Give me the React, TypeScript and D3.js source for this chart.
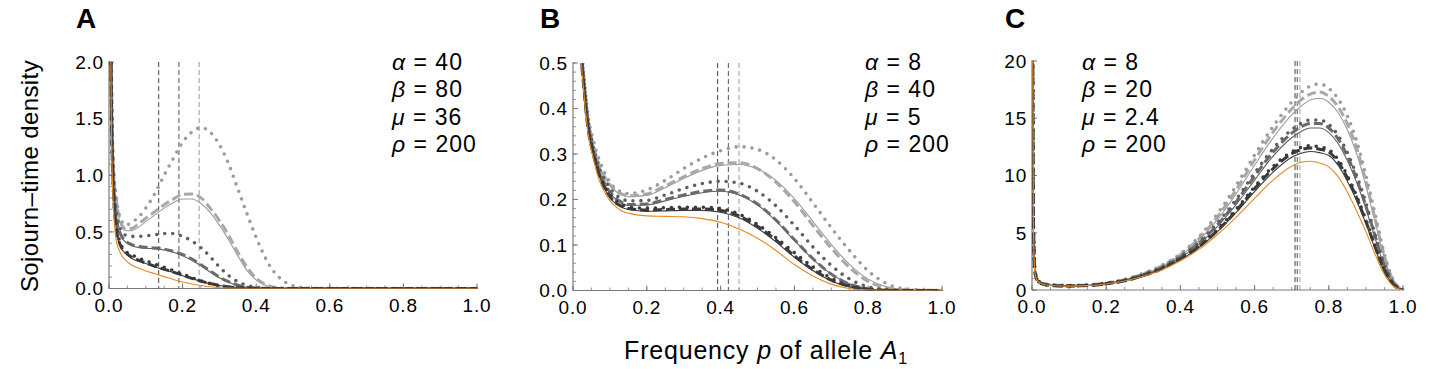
import React from 'react'
import * as d3 from 'd3'

// ---- data ----
const gridA = [0.002, 0.007, 0.012, 0.02, 0.03, 0.045, 0.06, 0.08, 0.1, 0.125, 0.15, 0.175, 0.2, 0.225, 0.25, 0.275, 0.3, 0.325, 0.35, 0.375, 0.4, 0.425, 0.45, 0.475, 0.5, 0.55, 0.6, 0.8, 1.0]
const aOrange = [3.2, 1.3, 0.72, 0.42, 0.32, 0.25, 0.21, 0.18, 0.155, 0.13, 0.105, 0.08, 0.058, 0.04, 0.026, 0.015, 0.007, 0.003, 0.001, 0, 0, 0, 0, 0, 0, 0, 0, 0, 0]
const aDarkSolid = [3.4, 1.5, 0.85, 0.52, 0.38, 0.31, 0.27, 0.24, 0.22, 0.19, 0.165, 0.14, 0.113, 0.087, 0.063, 0.042, 0.026, 0.014, 0.007, 0.003, 0.001, 0, 0, 0, 0, 0, 0, 0, 0]
const aDarkDashed = [3.4, 1.5, 0.86, 0.53, 0.39, 0.32, 0.28, 0.25, 0.225, 0.196, 0.17, 0.145, 0.117, 0.09, 0.065, 0.044, 0.027, 0.015, 0.007, 0.003, 0.001, 0, 0, 0, 0, 0, 0, 0, 0]
const aDarkDotted = [3.4, 1.55, 0.88, 0.55, 0.41, 0.33, 0.3, 0.27, 0.245, 0.215, 0.188, 0.158, 0.127, 0.096, 0.067, 0.043, 0.025, 0.012, 0.005, 0.002, 0, 0, 0, 0, 0, 0, 0, 0, 0]
const aMedSolid = [3.6, 1.6, 0.95, 0.62, 0.48, 0.41, 0.38, 0.362, 0.355, 0.35, 0.34, 0.32, 0.29, 0.25, 0.2, 0.145, 0.095, 0.055, 0.027, 0.011, 0.004, 0.001, 0, 0, 0, 0, 0, 0, 0]
const aMedDashed = [3.6, 1.6, 0.96, 0.63, 0.49, 0.42, 0.39, 0.372, 0.364, 0.358, 0.348, 0.328, 0.3, 0.26, 0.21, 0.155, 0.1, 0.06, 0.03, 0.012, 0.004, 0.001, 0, 0, 0, 0, 0, 0, 0]
const aMedDotted = [3.7, 1.7, 1.0, 0.68, 0.53, 0.47, 0.46, 0.46, 0.465, 0.475, 0.485, 0.485, 0.46, 0.42, 0.36, 0.28, 0.19, 0.115, 0.06, 0.027, 0.01, 0.003, 0.001, 0, 0, 0, 0, 0, 0]
const aLightSolid = [3.8, 1.75, 1.05, 0.76, 0.58, 0.51, 0.51, 0.54, 0.59, 0.65, 0.71, 0.76, 0.79, 0.79, 0.75, 0.67, 0.56, 0.43, 0.29, 0.16, 0.075, 0.028, 0.008, 0.002, 0, 0, 0, 0, 0]
const aLightDashed = [3.8, 1.75, 1.06, 0.78, 0.6, 0.53, 0.53, 0.57, 0.62, 0.68, 0.74, 0.79, 0.83, 0.835, 0.8, 0.71, 0.6, 0.47, 0.32, 0.19, 0.09, 0.035, 0.01, 0.002, 0, 0, 0, 0, 0]
const aLightDotted = [3.9, 1.8, 1.1, 0.8, 0.63, 0.56, 0.58, 0.63, 0.71, 0.84, 1.0, 1.15, 1.29, 1.38, 1.42, 1.38, 1.27, 1.1, 0.88, 0.66, 0.45, 0.27, 0.14, 0.065, 0.025, 0.003, 0, 0, 0]

const gridB = [0.012, 0.02, 0.03, 0.04, 0.055, 0.07, 0.09, 0.11, 0.13, 0.15, 0.2, 0.25, 0.3, 0.35, 0.4, 0.45, 0.5, 0.55, 0.6, 0.65, 0.7, 0.75, 0.8, 0.85, 0.9, 1.0]
const bOrange = [0.74, 0.54, 0.43, 0.35, 0.29, 0.245, 0.21, 0.188, 0.176, 0.17, 0.164, 0.163, 0.162, 0.158, 0.15, 0.135, 0.115, 0.088, 0.057, 0.032, 0.014, 0.004, 0.001, 0, 0, 0]
const bDarkSolid = [0.75, 0.55, 0.44, 0.36, 0.3, 0.255, 0.217, 0.195, 0.184, 0.178, 0.174, 0.175, 0.176, 0.176, 0.172, 0.16, 0.137, 0.107, 0.073, 0.044, 0.021, 0.008, 0.002, 0, 0, 0]
const bDarkDashed = [0.75, 0.55, 0.44, 0.36, 0.3, 0.256, 0.219, 0.197, 0.186, 0.18, 0.177, 0.178, 0.179, 0.179, 0.176, 0.164, 0.141, 0.111, 0.076, 0.046, 0.023, 0.009, 0.002, 0, 0, 0]
const bDarkDotted = [0.76, 0.56, 0.45, 0.37, 0.305, 0.26, 0.223, 0.201, 0.19, 0.184, 0.181, 0.182, 0.183, 0.183, 0.18, 0.168, 0.145, 0.116, 0.083, 0.052, 0.027, 0.01, 0.003, 0, 0, 0]
const bMedSolid = [0.76, 0.56, 0.45, 0.37, 0.305, 0.262, 0.227, 0.205, 0.193, 0.187, 0.188, 0.197, 0.207, 0.215, 0.218, 0.21, 0.188, 0.153, 0.11, 0.069, 0.036, 0.014, 0.004, 0.001, 0, 0]
const bMedDashed = [0.76, 0.56, 0.45, 0.37, 0.307, 0.264, 0.229, 0.207, 0.195, 0.189, 0.19, 0.2, 0.21, 0.218, 0.221, 0.212, 0.19, 0.155, 0.112, 0.07, 0.036, 0.014, 0.004, 0.001, 0, 0]
const bMedDotted = [0.77, 0.57, 0.46, 0.38, 0.315, 0.272, 0.238, 0.215, 0.203, 0.197, 0.198, 0.21, 0.224, 0.235, 0.24, 0.236, 0.218, 0.186, 0.143, 0.096, 0.055, 0.025, 0.008, 0.002, 0, 0]
const bLightSolid = [0.77, 0.57, 0.46, 0.38, 0.318, 0.276, 0.242, 0.222, 0.211, 0.206, 0.209, 0.226, 0.246, 0.264, 0.275, 0.277, 0.267, 0.242, 0.202, 0.152, 0.101, 0.057, 0.025, 0.008, 0.002, 0]
const bLightDashed = [0.77, 0.57, 0.46, 0.38, 0.32, 0.278, 0.244, 0.224, 0.213, 0.208, 0.212, 0.23, 0.25, 0.268, 0.279, 0.281, 0.268, 0.238, 0.195, 0.143, 0.093, 0.05, 0.02, 0.006, 0.001, 0]
const bLightDotted = [0.78, 0.58, 0.47, 0.39, 0.33, 0.29, 0.252, 0.228, 0.217, 0.213, 0.221, 0.242, 0.268, 0.291, 0.307, 0.316, 0.31, 0.287, 0.246, 0.193, 0.138, 0.087, 0.043, 0.015, 0.004, 0]

const gridC = [0.001, 0.004, 0.008, 0.015, 0.03, 0.06, 0.1, 0.15, 0.2, 0.25, 0.3, 0.35, 0.4, 0.45, 0.5, 0.55, 0.6, 0.65, 0.7, 0.725, 0.75, 0.775, 0.8, 0.825, 0.85, 0.875, 0.9, 0.925, 0.95, 0.975, 1.0]
const cOrange = [30, 5, 1.5, 0.8, 0.5, 0.37, 0.34, 0.38, 0.52, 0.78, 1.2, 1.75, 2.55, 3.55, 4.85, 6.35, 8.0, 9.6, 10.8, 11.15, 11.25, 11.1, 10.75, 9.9, 8.55, 6.9, 5.1, 3.1, 1.35, 0.3, 0]
const cDarkSolid = [30, 5.2, 1.55, 0.82, 0.51, 0.38, 0.35, 0.39, 0.53, 0.8, 1.23, 1.82, 2.65, 3.7, 5.1, 6.75, 8.6, 10.3, 11.6, 11.95, 12.1, 12.0, 11.75, 10.9, 9.5, 7.8, 5.8, 3.6, 1.6, 0.4, 0]
const cDarkDashed = [30, 5.2, 1.55, 0.82, 0.51, 0.38, 0.35, 0.4, 0.54, 0.81, 1.25, 1.85, 2.7, 3.78, 5.2, 6.9, 8.85, 10.6, 11.9, 12.25, 12.4, 12.3, 12.05, 11.2, 9.8, 8.05, 6.0, 3.75, 1.7, 0.45, 0]
const cDarkDotted = [30, 5.3, 1.6, 0.84, 0.52, 0.39, 0.36, 0.4, 0.55, 0.82, 1.27, 1.88, 2.75, 3.85, 5.3, 7.05, 9.0, 10.8, 12.05, 12.45, 12.6, 12.5, 12.25, 11.4, 10.0, 8.2, 6.15, 3.85, 1.75, 0.45, 0]
const cMedSolid = [30, 5.4, 1.6, 0.85, 0.53, 0.4, 0.36, 0.41, 0.56, 0.84, 1.3, 1.93, 2.82, 4.0, 5.55, 7.45, 9.6, 11.7, 13.3, 13.85, 14.15, 14.15, 13.75, 12.8, 11.3, 9.4, 7.1, 4.5, 2.05, 0.5, 0]
const cMedDashed = [30, 5.4, 1.6, 0.85, 0.53, 0.4, 0.37, 0.42, 0.57, 0.85, 1.32, 1.96, 2.88, 4.1, 5.7, 7.7, 9.95, 12.05, 13.7, 14.25, 14.55, 14.55, 14.15, 13.2, 11.7, 9.7, 7.35, 4.7, 2.15, 0.55, 0]
const cMedDotted = [30, 5.5, 1.65, 0.87, 0.54, 0.41, 0.37, 0.42, 0.58, 0.87, 1.35, 2.0, 2.93, 4.2, 5.85, 7.9, 10.2, 12.35, 14.0, 14.55, 14.85, 14.85, 14.45, 13.5, 12.0, 10.0, 7.6, 4.85, 2.25, 0.6, 0]
const cLightSolid = [30, 5.6, 1.7, 0.88, 0.55, 0.42, 0.38, 0.43, 0.59, 0.89, 1.38, 2.05, 3.0, 4.35, 6.15, 8.4, 10.9, 13.3, 15.3, 16.05, 16.6, 16.75, 16.4, 15.5, 14.0, 11.9, 9.1, 5.9, 2.8, 0.7, 0]
const cLightDashed = [30, 5.6, 1.7, 0.89, 0.56, 0.43, 0.39, 0.44, 0.6, 0.91, 1.41, 2.1, 3.08, 4.5, 6.4, 8.75, 11.35, 13.8, 15.8, 16.6, 17.1, 17.3, 16.9, 16.0, 14.5, 12.4, 9.5, 6.2, 2.95, 0.75, 0]
const cLightDotted = [30, 5.7, 1.75, 0.9, 0.57, 0.44, 0.4, 0.45, 0.62, 0.93, 1.45, 2.15, 3.15, 4.65, 6.65, 9.1, 11.8, 14.3, 16.4, 17.25, 17.8, 18.0, 17.6, 16.7, 15.2, 13.0, 10.0, 6.6, 3.1, 0.8, 0]

// vertical reference lines (dark, medium, light)
const vlinesA = [0.135, 0.19, 0.245]
const vlinesB = [0.392, 0.421, 0.45]
const vlinesC = [0.709, 0.715, 0.722]

const paramsA = [['α', '40'], ['β', '80'], ['μ', '36'], ['ρ', '200']]
const paramsB = [['α', '8'], ['β', '40'], ['μ', '5'], ['ρ', '200']]
const paramsC = [['α', '8'], ['β', '20'], ['μ', '2.4'], ['ρ', '200']]

const yMaxA = 2, yMaxB = 0.5, yMaxC = 20

// ---- styling ----
const DARK = '#3a3a3a', MED = '#5f5f5f', LIGHT = '#9c9c9c', ORANGE = '#e8891c'
const FONT = '"Liberation Sans", Arial, Helvetica, sans-serif'

const styleOf = (kind: string, color: string) => {
    if (kind === 'solid') return { stroke: color, strokeWidth: 1.1 }
    if (kind === 'dashed') return { stroke: color, strokeWidth: 3, strokeDasharray: '9 4' }
    return { stroke: color, strokeWidth: 3.6, strokeDasharray: '0 8', strokeLinecap: 'round' as const }
}

const makeSeries = (grid: number[], sets: [number[], string, string][]) =>
    sets.map(([vals, kind, color]) => ({ pts: grid.map((g, i) => [g, vals[i]] as [number, number]), kind, color }))

const panels = [
    {
        id: 'A', left: 109, right: 477, top: 62, bottom: 288.5, yMax: yMaxA, yMajor: 0.5, yMinor: 0.1, fmt: '.1f',
        letterX: 76, paramX: 392, vlines: vlinesA, params: paramsA,
        series: makeSeries(gridA, [
            [aLightSolid, 'solid', LIGHT], [aLightDashed, 'dashed', '#a8a8a8'], [aLightDotted, 'dotted', LIGHT],
            [aMedSolid, 'solid', MED], [aMedDashed, 'dashed', '#6a6a6a'], [aMedDotted, 'dotted', MED],
            [aDarkSolid, 'solid', DARK], [aDarkDashed, 'dashed', DARK], [aDarkDotted, 'dotted', DARK],
            [aOrange, 'solid', ORANGE],
        ]),
    },
    {
        id: 'B', left: 573, right: 942, top: 63, bottom: 290.5, yMax: yMaxB, yMajor: 0.1, yMinor: 0.02, fmt: '.1f',
        letterX: 540, paramX: 865, vlines: vlinesB, params: paramsB,
        series: makeSeries(gridB, [
            [bLightSolid, 'solid', LIGHT], [bLightDashed, 'dashed', '#a8a8a8'], [bLightDotted, 'dotted', LIGHT],
            [bMedSolid, 'solid', MED], [bMedDashed, 'dashed', '#6a6a6a'], [bMedDotted, 'dotted', MED],
            [bDarkSolid, 'solid', DARK], [bDarkDashed, 'dashed', DARK], [bDarkDotted, 'dotted', DARK],
            [bOrange, 'solid', ORANGE],
        ]),
    },
    {
        id: 'C', left: 1032, right: 1403, top: 61, bottom: 290, yMax: yMaxC, yMajor: 5, yMinor: 1, fmt: 'd',
        letterX: 1005, paramX: 1082, vlines: vlinesC, params: paramsC,
        series: makeSeries(gridC, [
            [cLightSolid, 'solid', LIGHT], [cLightDashed, 'dashed', '#a8a8a8'], [cLightDotted, 'dotted', LIGHT],
            [cMedSolid, 'solid', MED], [cMedDashed, 'dashed', '#6a6a6a'], [cMedDotted, 'dotted', MED],
            [cDarkSolid, 'solid', DARK], [cDarkDashed, 'dashed', DARK], [cDarkDotted, 'dotted', DARK],
            [cOrange, 'solid', ORANGE],
        ]),
    },
]

const vColors = ['#444', '#555', '#999']
const AXIS = '#7a7a7a'

const Panel = ({ p }: { p: typeof panels[number] }) => {
    const x = d3.scaleLinear().domain([0, 1]).range([p.left, p.right])
    const y = d3.scaleLinear().domain([0, p.yMax]).range([p.bottom, p.top])
    const line = d3.line<[number, number]>().x(d => x(d[0])).y(d => y(d[1])).curve(d3.curveMonotoneX)
    const fmt = d3.format(p.fmt)
    const xMajor = d3.range(0, 1.0001, 0.2)
    const xMinor = d3.range(0, 1.0001, 0.05)
    const yMajor = d3.range(0, p.yMax + 1e-9, p.yMajor)
    const yMinor = d3.range(0, p.yMax + 1e-9, p.yMinor)
    const clipId = `clip-${p.id}`
    return (
        <g>
            <defs>
                <clipPath id={clipId}>
                    <rect x={p.left} y={p.top} width={p.right - p.left + 2} height={p.bottom - p.top} />
                </clipPath>
            </defs>
            <text x={p.letterX} y={28} fontFamily={FONT} fontWeight="bold" fontSize={28}>{p.id}</text>

            {/* axes */}
            <line x1={p.left} x2={p.right + 1} y1={p.bottom} y2={p.bottom} stroke={AXIS} strokeWidth={1.2} />
            <line x1={p.left} x2={p.left} y1={p.bottom} y2={p.top - 1} stroke={AXIS} strokeWidth={1.2} />
            {xMinor.map((t, i) => (
                <line key={'xm' + i} x1={x(t)} x2={x(t)} y1={p.bottom} y2={p.bottom - 3} stroke={AXIS} strokeWidth={0.8} />
            ))}
            {xMajor.map((t, i) => (
                <g key={'xM' + i}>
                    <line x1={x(t)} x2={x(t)} y1={p.bottom} y2={p.bottom - 5} stroke={AXIS} strokeWidth={1} />
                    <text x={x(t)} y={p.bottom + 23} textAnchor="middle" fontFamily={FONT} fontSize={19} letterSpacing={0.8}>{t.toFixed(1)}</text>
                </g>
            ))}
            {yMinor.map((t, i) => (
                <line key={'ym' + i} x1={p.left} x2={p.left + 3} y1={y(t)} y2={y(t)} stroke={AXIS} strokeWidth={0.8} />
            ))}
            {yMajor.map((t, i) => (
                <g key={'yM' + i}>
                    <line x1={p.left} x2={p.left + 5} y1={y(t)} y2={y(t)} stroke={AXIS} strokeWidth={1} />
                    <text x={p.left - 5} y={y(t)} dy="0.36em" textAnchor="end" fontFamily={FONT} fontSize={19} letterSpacing={0.8}>{fmt(t)}</text>
                </g>
            ))}

            {/* vertical reference lines */}
            {p.vlines.map((v, i) => (
                <line key={'v' + i} x1={x(v)} x2={x(v)} y1={p.top} y2={p.bottom} stroke={vColors[i]} strokeWidth={1} strokeDasharray="5 3" />
            ))}

            {/* curves */}
            <g clipPath={`url(#${clipId})`} fill="none">
                {p.series.map((s, i) => (
                    <path key={i} d={line(s.pts) || ''} {...styleOf(s.kind, s.color)} />
                ))}
            </g>

            {/* parameters */}
            {p.params.map(([sym, val], i) => (
                <text key={'p' + i} x={p.paramX} y={70 + i * 27.3} fontFamily={FONT} fontSize={23} letterSpacing={1}>
                    <tspan fontStyle="italic">{sym}</tspan>{` = ${val}`}
                </text>
            ))}
        </g>
    )
}

export default function App() {
    return (
        <svg width={1432} height={369} style={{ position: 'absolute', left: 0, top: 0, background: '#fff' }}>
            <rect width={1432} height={369} fill="#fff" />
            {panels.map(p => <Panel key={p.id} p={p} />)}
            <text transform="translate(38,176) rotate(-90)" textAnchor="middle" fontFamily={FONT} fontSize={24} letterSpacing={0.4}>Sojourn–time density</text>
            <text x={766} y={359} textAnchor="middle" fontFamily={FONT} fontSize={25} letterSpacing={0.8}>
                Frequency <tspan fontStyle="italic">p</tspan> of allele <tspan fontStyle="italic">A</tspan>
                <tspan fontSize={16} dy={5}>1</tspan>
            </text>
        </svg>
    )
}
